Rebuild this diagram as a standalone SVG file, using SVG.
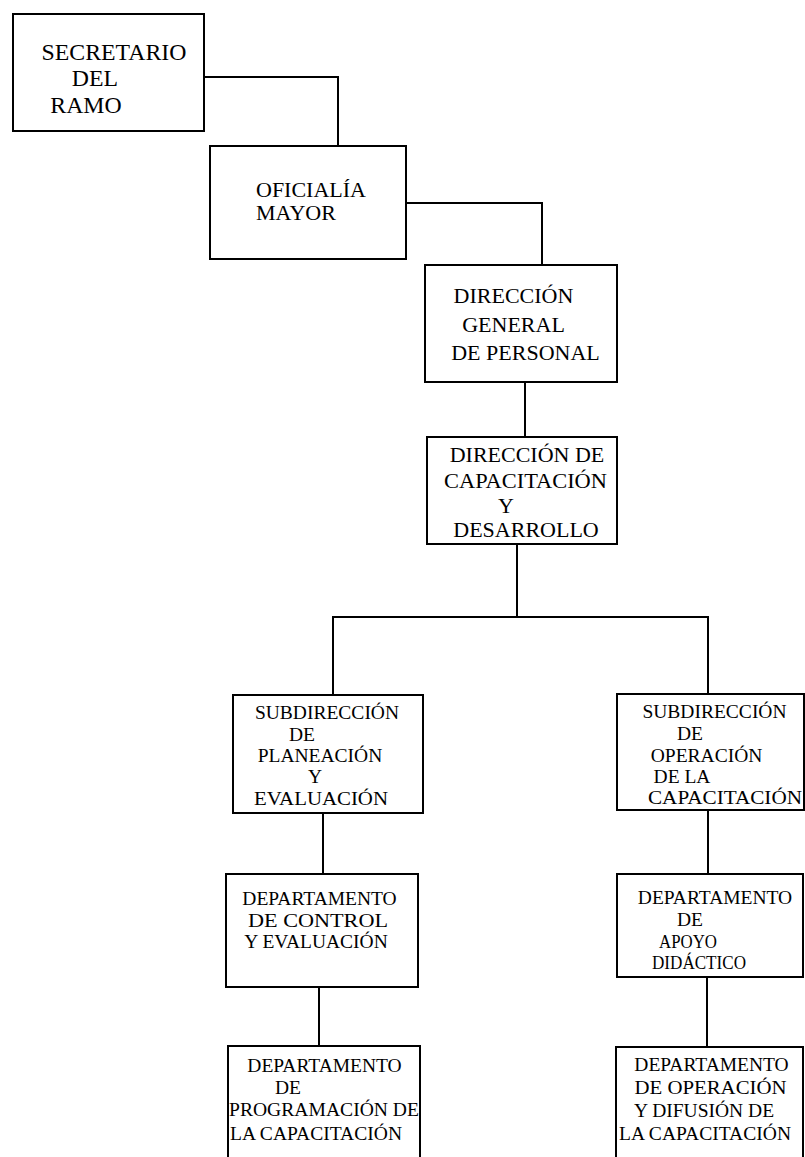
<svg xmlns="http://www.w3.org/2000/svg" width="805" height="1157" viewBox="0 0 805 1157">
<style>
.box{fill:#fff;stroke:#000;stroke-width:2}
.ln{fill:none;stroke:#000;stroke-width:2}
.t1{font-family:"Liberation Serif","Times New Roman",serif;font-size:22px;fill:#000;text-anchor:middle}
.t0{font-family:"Liberation Serif","Times New Roman",serif;font-size:23.8px;fill:#000;text-anchor:middle}
.t2{font-family:"Liberation Serif","Times New Roman",serif;font-size:19.5px;fill:#000;text-anchor:middle}
</style>
<rect width="805" height="1157" fill="#fff"/>
<g id="connectors">
<polyline class="ln" points="204,77 338,77 338,146"/>
<polyline class="ln" points="406,203 542,203 542,265"/>
<line class="ln" x1="525" y1="382" x2="525" y2="437"/>
<line class="ln" x1="517" y1="544" x2="517" y2="617"/>
<polyline class="ln" points="333,695 333,617 708,617 708,694"/>
<line class="ln" x1="323" y1="813" x2="323" y2="874"/>
<line class="ln" x1="319" y1="987" x2="319" y2="1046"/>
<line class="ln" x1="708" y1="810" x2="708" y2="874"/>
<line class="ln" x1="707" y1="977" x2="707" y2="1047"/>
</g>
<g id="secretario">
<rect class="box" x="13" y="14" width="191" height="117"/>
<text class="t0" x="114" y="60">SECRETARIO</text>
<text class="t0" x="95" y="86">DEL</text>
<text class="t0" x="86" y="113">RAMO</text>
</g>
<g id="oficialia">
<rect class="box" x="210" y="146" width="196" height="113"/>
<text class="t1" x="311" y="197">OFICIALÍA</text>
<text class="t1" x="296" y="220">MAYOR</text>
</g>
<g id="dgp">
<rect class="box" x="425" y="265" width="192" height="117"/>
<text class="t1" x="513.5" y="303">DIRECCIÓN</text>
<text class="t1" x="513.5" y="332">GENERAL</text>
<text class="t1" x="525.5" y="360">DE PERSONAL</text>
</g>
<g id="dcd">
<rect class="box" x="427" y="437" width="190" height="107"/>
<text class="t1" x="527" y="462">DIRECCIÓN DE</text>
<text class="t1" x="525.5" y="488" textLength="163" lengthAdjust="spacingAndGlyphs">CAPACITACIÓN</text>
<text class="t1" x="506" y="513">Y</text>
<text class="t1" x="526" y="537">DESARROLLO</text>
</g>
<g id="subd-planeacion">
<rect class="box" x="233" y="695" width="190" height="118"/>
<text class="t2" x="327" y="719">SUBDIRECCIÓN</text>
<text class="t2" x="302" y="741">DE</text>
<text class="t2" x="320" y="762">PLANEACIÓN</text>
<text class="t2" x="315" y="783">Y</text>
<text class="t2" x="321" y="805" textLength="134" lengthAdjust="spacingAndGlyphs">EVALUACIÓN</text>
</g>
<g id="subd-operacion">
<rect class="box" x="617" y="694" width="187" height="116"/>
<text class="t2" x="714.5" y="718">SUBDIRECCIÓN</text>
<text class="t2" x="690" y="740">DE</text>
<text class="t2" x="706.5" y="762">OPERACIÓN</text>
<text class="t2" x="682" y="783">DE LA</text>
<text class="t2" x="725" y="804" textLength="154" lengthAdjust="spacingAndGlyphs">CAPACITACIÓN</text>
</g>
<g id="depto-control">
<rect class="box" x="226" y="874" width="192" height="113"/>
<text class="t2" x="319.5" y="905">DEPARTAMENTO</text>
<text class="t2" x="318" y="927" textLength="140" lengthAdjust="spacingAndGlyphs">DE CONTROL</text>
<text class="t2" x="316" y="948">Y EVALUACIÓN</text>
</g>
<g id="depto-apoyo">
<rect class="box" x="617" y="874" width="186" height="103"/>
<text class="t2" x="715" y="904">DEPARTAMENTO</text>
<text class="t2" x="690" y="926">DE</text>
<text class="t2" x="688" y="948" textLength="58" lengthAdjust="spacingAndGlyphs">APOYO</text>
<text class="t2" x="699" y="969" textLength="94" lengthAdjust="spacingAndGlyphs">DIDÁCTICO</text>
</g>
<g id="depto-programacion">
<rect class="box" x="228" y="1046" width="192" height="130"/>
<text class="t2" x="324.5" y="1072">DEPARTAMENTO</text>
<text class="t2" x="288" y="1094">DE</text>
<text class="t2" x="324" y="1116" textLength="190" lengthAdjust="spacingAndGlyphs">PROGRAMACIÓN DE</text>
<text class="t2" x="316" y="1140" textLength="172" lengthAdjust="spacingAndGlyphs">LA  CAPACITACIÓN</text>
</g>
<g id="depto-difusion">
<rect class="box" x="616" y="1047" width="187" height="130"/>
<text class="t2" x="711.5" y="1071">DEPARTAMENTO</text>
<text class="t2" x="710.5" y="1094" textLength="152" lengthAdjust="spacingAndGlyphs">DE  OPERACIÓN</text>
<text class="t2" x="704" y="1117">Y DIFUSIÓN DE</text>
<text class="t2" x="705" y="1140" textLength="172" lengthAdjust="spacingAndGlyphs">LA CAPACITACIÓN</text>
</g>
</svg>
